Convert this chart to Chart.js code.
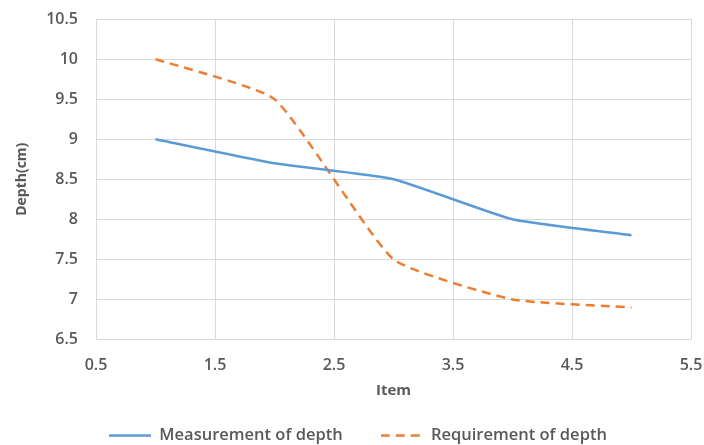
<!DOCTYPE html>
<html>
<head>
<meta charset="utf-8">
<script src="https://cdn.jsdelivr.net/npm/chart.js@4"></script>
<style>
html,body{margin:0;padding:0;background:#fff;}
#wrap{width:704px;height:445px;}
</style>
</head>
<body>
<div id="wrap"><canvas id="c" width="704" height="445"></canvas></div>
<script>
const items = [1, 2, 3, 4, 5];
const measurement = [9, 8.7, 8.5, 8, 7.8];
const requirement = [10, 9.5, 7.5, 7, 6.9];
const xTicks = [0.5, 1.5, 2.5, 3.5, 4.5, 5.5];
const yTicks = [6.5, 7, 7.5, 8, 8.5, 9, 9.5, 10, 10.5];
const seriesNames = ['Measurement of depth', 'Requirement of depth'];

const textColor = '#595959';
const gridColor = '#d9d9d9';
const blue = '#5b9bd5';
const orange = '#ed7d31';

function zeroPad(s) {
  s.paddingTop = 0; s.paddingBottom = 0; s.paddingLeft = 0; s.paddingRight = 0;
}

function legendLine(color, dash) {
  const cv = document.createElement('canvas');
  cv.width = 42; cv.height = 3;
  const g = cv.getContext('2d');
  g.strokeStyle = color;
  g.lineWidth = 2.5;
  g.setLineDash(dash);
  g.beginPath();
  g.moveTo(0, 1.5);
  g.lineTo(42, 1.5);
  g.stroke();
  return cv;
}

new Chart(document.getElementById('c'), {
  type: 'line',
  data: {
    datasets: [
      {
        label: seriesNames[0],
        data: items.map((x, i) => ({x, y: measurement[i]})),
        borderColor: blue,
        backgroundColor: blue,
        borderWidth: 2.5,
        pointRadius: 0,
        tension: 0.15,
        pointStyle: legendLine(blue, [])
      },
      {
        label: seriesNames[1],
        data: items.map((x, i) => ({x, y: requirement[i]})),
        borderColor: orange,
        backgroundColor: orange,
        borderWidth: 2.5,
        borderDash: [9, 6],
        pointRadius: 0,
        tension: 0.15,
        pointStyle: legendLine(orange, [9, 6])
      }
    ]
  },
  options: {
    responsive: false,
    animation: false,
    layout: {padding: {left: 25, right: 13, top: 19, bottom: -9}},
    plugins: {
      tooltip: {enabled: false},
      legend: {
        position: 'bottom',
        labels: {
          usePointStyle: true,
          pointStyleWidth: 42,
          padding: 38,
          color: textColor,
          font: {family: 'Open Sans', size: 16.5, weight: '600'}
        }
      }
    },
    scales: {
      x: {
        type: 'linear',
        min: 0.5,
        max: 5.5,
        afterBuildTicks: s => { s.ticks = xTicks.map(v => ({value: v})); },
        afterFit: s => { s.height = 50; zeroPad(s); },
        grid: {color: gridColor, drawTicks: false, lineWidth: 1},
        border: {color: gridColor},
        ticks: {
          padding: 16,
          color: textColor,
          font: {family: 'Open Sans', size: 16, weight: '600'},
          callback: v => String(v),
          maxRotation: 0
        },
        title: {
          display: true,
          text: 'Item',
          color: textColor,
          font: {family: 'Open Sans', size: 15, weight: 'bold'},
          padding: {top: 0, bottom: -10}
        }
      },
      y: {
        min: 6.5,
        max: 10.5,
        afterBuildTicks: s => { s.ticks = yTicks.map(v => ({value: v})); },
        afterFit: s => { s.width = 71; zeroPad(s); },
        grid: {color: gridColor, drawTicks: false, lineWidth: 1},
        border: {color: gridColor},
        ticks: {
          padding: 18,
          color: textColor,
          font: {family: 'Open Sans', size: 16, weight: '600'},
          callback: v => String(v)
        },
        title: {
          display: true,
          text: 'Depth(cm)',
          color: textColor,
          font: {family: 'Open Sans', size: 14, weight: 'bold'},
          padding: {top: -11, bottom: 0}
        }
      }
    }
  }
});
</script>
</body>
</html>
